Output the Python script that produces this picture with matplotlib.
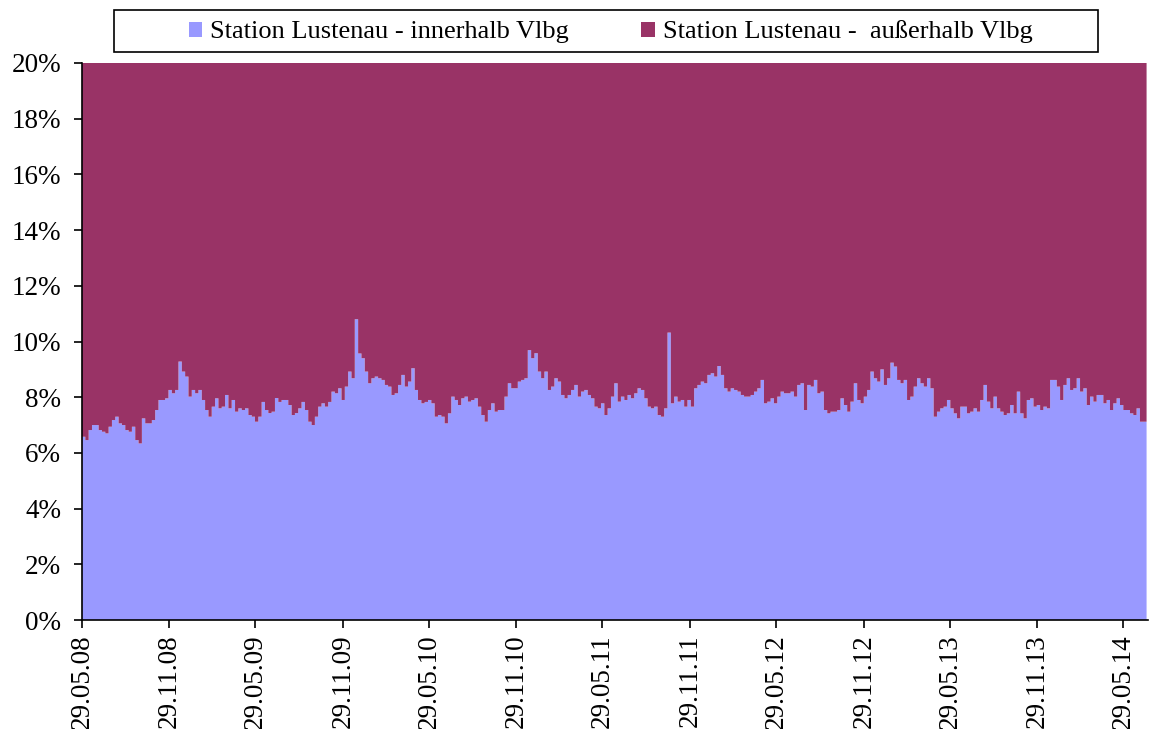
import matplotlib.pyplot as plt
from matplotlib.patches import Rectangle
from matplotlib.ticker import FuncFormatter
import numpy as np
import pandas as pd

plt.rcParams["font.family"] = ["Liberation Serif", "DejaVu Serif"]

# Weekly share (%) of Station Lustenau traffic from inside Vorarlberg
start_date = "2008-05-29"
innerhalb = [
    6.58, 6.46, 6.82, 7.00, 7.00, 6.82, 6.76, 6.70, 6.94, 7.18, 7.30, 7.06, 7.00, 6.82,
    6.76, 6.94, 6.46, 6.34, 7.24, 7.06, 7.06, 7.18, 7.54, 7.90, 7.90, 7.96, 8.26, 8.14,
    8.26, 9.28, 8.92, 8.74, 8.02, 8.26, 8.14, 8.26, 7.90, 7.54, 7.30, 7.66, 7.96, 7.60,
    7.66, 8.08, 7.60, 7.90, 7.48, 7.60, 7.54, 7.60, 7.36, 7.30, 7.12, 7.30,
    # 2009 / 2010
    7.83, 7.54, 7.43, 7.48, 7.97, 7.83, 7.90, 7.90, 7.72, 7.36, 7.43, 7.60, 7.83, 7.54,
    7.12, 7.00, 7.30, 7.66, 7.78, 7.66, 7.83, 8.20, 8.14, 8.32, 7.90, 8.38, 8.92, 8.68,
    10.80, 9.57, 9.40, 8.92, 8.50, 8.68, 8.74, 8.68, 8.62, 8.44, 8.38, 8.08, 8.14, 8.44,
    8.80, 8.38, 8.56, 9.04, 8.26, 7.90, 7.78, 7.83, 7.90, 7.78,
    # 2010 / 2011
    7.30, 7.36, 7.30, 7.06, 7.42, 8.02, 7.90, 7.72, 7.96, 8.02, 7.84, 7.90, 7.96, 7.66,
    7.36, 7.12, 7.54, 7.78, 7.48, 7.54, 7.54, 8.02, 8.50, 8.32, 8.32, 8.56, 8.62, 8.68,
    9.69, 9.40, 9.58, 8.92, 8.68, 8.92, 8.26, 8.38, 8.68, 8.56, 8.08, 7.96, 8.08, 8.26,
    8.44, 8.02, 8.20, 8.26, 8.08, 7.96, 7.66, 7.60, 7.78, 7.36, 7.60,
    # 2011 / 2012
    8.02, 8.50, 7.84, 8.02, 7.90, 8.08, 7.96, 8.14, 8.32, 8.26, 7.96, 7.66, 7.60, 7.66,
    7.36, 7.30, 7.60, 10.32, 7.78, 8.02, 7.84, 7.90, 7.66, 7.90, 7.66, 8.32, 8.44, 8.56,
    8.50, 8.80, 8.86, 8.74, 9.12, 8.80, 8.32, 8.20, 8.32, 8.26, 8.20, 8.08, 8.02, 8.02,
    8.08, 8.20, 8.32, 8.62, 7.78, 7.84, 7.96, 7.78, 8.02, 8.20,
    # 2012 / 2013
    8.14, 8.14, 8.20, 8.02, 8.44, 8.50, 7.54, 8.44, 8.38, 8.62, 8.14, 8.20, 7.54, 7.42,
    7.48, 7.48, 7.54, 7.96, 7.72, 7.48, 7.84, 8.50, 7.90, 7.78, 8.02, 8.26, 8.92, 8.68,
    8.56, 9.00, 8.44, 8.68, 9.24, 9.10, 8.62, 8.50, 8.62, 7.90, 8.02, 8.38, 8.68, 8.50,
    8.38, 8.68, 8.32, 7.30, 7.48, 7.60, 7.66, 7.90, 7.60, 7.42, 7.24,
    # 2013 / 2014
    7.66, 7.66, 7.42, 7.48, 7.60, 7.48, 7.90, 8.44, 7.84, 7.60, 8.02, 7.60, 7.48, 7.36,
    7.42, 7.72, 7.42, 8.20, 7.42, 7.24, 7.90, 7.96, 7.66, 7.72, 7.54, 7.66, 7.60, 8.62,
    8.62, 8.38, 7.90, 8.44, 8.68, 8.26, 8.32, 8.68, 8.20, 8.32, 7.72, 8.02, 7.84, 8.08,
    8.08, 7.78, 7.90, 7.54, 7.78, 7.96, 7.72, 7.54, 7.54, 7.42, 7.36, 7.60, 7.12, 7.12,
    7.36,
]
tick_labels = [
    "29.05.08", "29.11.08", "29.05.09", "29.11.09", "29.05.10", "29.11.10", "29.05.11",
    "29.11.11", "29.05.12", "29.11.12", "29.05.13", "29.11.13", "29.05.14",
]
series_names = ["Station Lustenau - innerhalb Vlbg", "Station Lustenau -  außerhalb Vlbg"]

dates = pd.date_range(start_date, periods=len(innerhalb), freq="7D")
inner = np.array(innerhalb)
outer = 100 - inner

fig = plt.figure(figsize=(11.5, 7.29), dpi=100)
ax = fig.add_axes([82 / 1150, 109 / 729, 1066 / 1150, 557 / 729])

ax.stackplot(dates, inner, outer, colors=["#9999FF", "#993366"],
             labels=series_names, step="post", linewidth=0)

ax.set_ylim(0, 20)
ax.set_yticks(np.arange(0, 21, 2))
ax.yaxis.set_major_formatter(FuncFormatter(lambda v, p: f"{v:.0f}%"))
ax.set_xlim(dates[0], dates[-1] + pd.Timedelta(days=3))

tick_dates = pd.to_datetime(tick_labels, format="%d.%m.%y")
ax.set_xticks(tick_dates)
ax.set_xticklabels(tick_labels, rotation=90)

for side in ["top", "right"]:
    ax.spines[side].set_visible(False)
for side in ["left", "bottom"]:
    ax.spines[side].set_color("black")
    ax.spines[side].set_linewidth(1.2)
ax.tick_params(axis="both", direction="out", length=6, width=1.2, labelsize=19.5,
               colors="black")
ax.tick_params(axis="y", pad=9)
ax.tick_params(axis="x", pad=4)

# legend box at the top
fig.patches.append(Rectangle((114 / 1150, 1 - 52 / 729), 984 / 1150, 42 / 729,
                             transform=fig.transFigure, facecolor="white",
                             edgecolor="black", linewidth=1.2))
handles, labels = ax.get_legend_handles_labels()
fig.legend(handles, labels, loc="center", bbox_to_anchor=(0.531, 1 - 32 / 729),
           ncol=2, frameon=False, fontsize=19, handlelength=0.5, handleheight=0.5,
           handletextpad=0.3, columnspacing=2.75)

fig.savefig("out.png", dpi=100)
